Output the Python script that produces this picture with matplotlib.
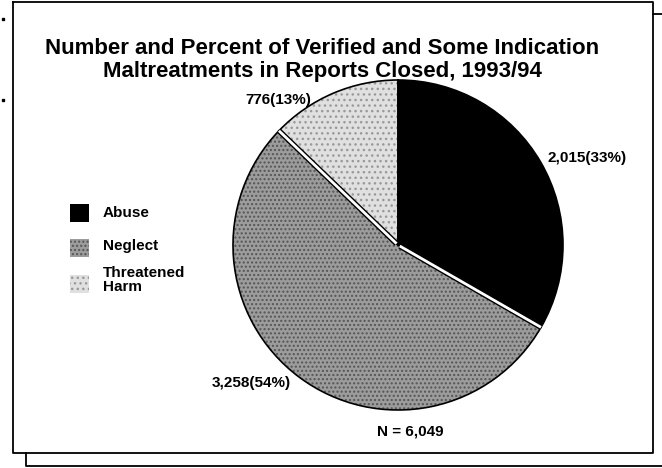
import numpy as np
import matplotlib
matplotlib.use("Agg")
import matplotlib.pyplot as plt

plt.rcParams["font.family"] = ["Liberation Sans", "DejaVu Sans"]
plt.rcParams["hatch.linewidth"] = 1.0

# data
categories = ["Abuse", "Neglect", "Threatened\nHarm"]
counts = [2015, 3258, 776]
percents = [33, 54, 13]
total = 6049
title = "Number and Percent of Verified and Some Indication\nMaltreatments in Reports Closed, 1993/94"

face = ["#000000", "#9c9c9c", "#e0e0e0"]
hatch_col = ["#000000", "#555555", "#999999"]
hatches = [None, "....", "..."]

W, H = 662, 468
fig = plt.figure(figsize=(W / 100, H / 100), dpi=100)
ax = fig.add_axes([0, 0, 1, 1])

cx, cy, r = 398, H - 245, 165

wedges, _ = ax.pie(counts, startangle=90, counterclock=False,
                   center=(cx, cy), radius=r, colors=face,
                   wedgeprops=dict(linewidth=0))
for w, hc, h in zip(wedges, hatch_col, hatches):
    if h:
        w.set_hatch(h)
        w.set_edgecolor(hc)

# outlines
outl, _ = ax.pie(counts, startangle=90, counterclock=False,
                 center=(cx, cy), radius=r,
                 wedgeprops=dict(facecolor="none", edgecolor="black", linewidth=1.2))

# white gap around the neglect slice
neg = wedges[1]
for ang in (neg.theta1, neg.theta2):
    a = np.deg2rad(ang)
    xs = [cx + 2 * np.cos(a), cx + r * np.cos(a)]
    ys = [cy + 2 * np.sin(a), cy + r * np.sin(a)]
    ax.plot(xs, ys, color="black", lw=4.0, solid_capstyle="butt")
    ax.plot(xs, ys, color="white", lw=2.0, solid_capstyle="butt")

ax.set_xlim(0, W)
ax.set_ylim(0, H)
ax.set_aspect("auto")
ax.axis("off")

# title
ax.text(322, H - 60, title, ha="center", va="center", fontsize=16,
        fontweight="bold", linespacing=1.12)

# slice labels
lab = [f"{c:,}({p}%)" for c, p in zip(counts, percents)]
ax.text(548, H - 158, lab[0], ha="left", va="center", fontsize=11, fontweight="bold")
ax.text(291, H - 383, lab[1], ha="right", va="center", fontsize=11, fontweight="bold")
ax.text(311, H - 100, lab[2], ha="right", va="center", fontsize=11, fontweight="bold")
ax.text(410, H - 432, f"N = {total:,}", ha="center", va="center", fontsize=11,
        fontweight="bold")

# legend
leg_y = [213, 248, 284]
txt_y = [213, 246, 280]
for f, hc, h, ly, ty, name in zip(face, hatch_col, hatches, leg_y, txt_y, categories):
    rect = plt.Rectangle((70, H - ly - 9), 19, 18, facecolor=f,
                         edgecolor=hc if h else "black", hatch=h, linewidth=0)
    ax.add_patch(rect)
    ax.text(103, H - ty, name, ha="left", va="center", fontsize=11,
            fontweight="bold", linespacing=0.95)

# frame
ax.plot([13, 13, 653, 653, 13], [H - 2, H - 453, H - 453, H - 2, H - 2],
        color="black", lw=1.3)
ax.plot([26, 26, 662], [H - 453, H - 466, H - 466], color="black", lw=1.3)
ax.plot([653, 662], [H - 14, H - 14], color="black", lw=1.3)
ax.plot([3], [H - 19], marker="s", ms=2, color="black")
ax.plot([3], [H - 100], marker="s", ms=2, color="black")

fig.savefig("out.png", dpi=100)
